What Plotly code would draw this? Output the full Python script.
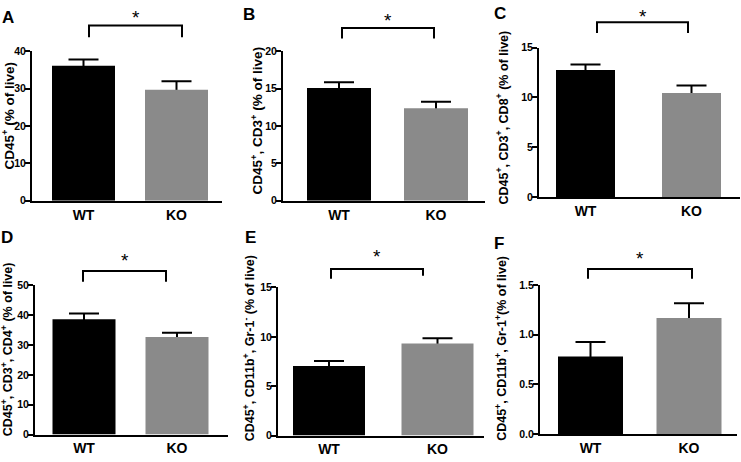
import plotly.graph_objects as go

# ---------------- data ----------------
groups = ["WT", "KO"]
panel_letters = ["A", "B", "C", "D", "E", "F"]
y_titles = [
    "CD45<sup>+</sup> (% of live)",
    "CD45<sup>+</sup>, CD3<sup>+</sup> (% of live)",
    "CD45<sup>+</sup>, CD3<sup>+</sup>, CD8<sup>+</sup> (% of live)",
    "CD45<sup>+</sup>, CD3<sup>+</sup>, CD4<sup>+</sup> (% of live)",
    "CD45<sup>+</sup>, CD11b<sup>+</sup>, Gr-1<sup>-</sup> (% of live)",
    "CD45<sup>+</sup>, CD11b<sup>+</sup>, Gr-1<sup>+</sup>(% of live)",
]
wt_mean = [36.1, 15.1, 12.75, 38.6, 7.04, 0.78]
wt_sem = [1.7, 0.77, 0.55, 1.9, 0.50, 0.147]
ko_mean = [29.7, 12.39, 10.44, 32.7, 9.33, 1.17]
ko_sem = [2.3, 0.87, 0.74, 1.4, 0.52, 0.148]
y_max = [40, 20, 15, 50, 15, 1.5]
y_dtick = [10, 5, 5, 10, 5, 0.5]
y_format = ["d", "d", "d", "d", "d", ".1f"]
significance = ["*", "*", "*", "*", "*", "*"]

# ---------------- layout (pixels) ----------------
W, H = 741, 462
bar_colors = ["#000000", "#8a8a8a"]
FONT = "Liberation Sans, Arial, sans-serif"

# plot area: x0, x1, y_top, y_bottom
area_px = [
    (32, 222, 46.5, 200),
    (283, 485, 46.5, 200),
    (539, 740, 42.7, 196),
    (35, 228, 286.7, 440),
    (278, 484, 289, 441),
    (540, 737, 286.7, 439.3),
]
# bar centres (WT, KO) and bar width in px
bar_px = [
    (83.5, 176.5, 63),
    (339, 436, 64),
    (585.5, 691.5, 59),
    (84, 177, 63),
    (329, 437.5, 72),
    (590.5, 689, 65),
]
# bracket: x_left, x_right, y_horizontal, y_leg_left, y_leg_right
bracket_px = [
    (89, 182, 20, 32, 32),
    (342, 434, 22.7, 33.3, 33.3),
    (597, 688, 16.7, 27.7, 27.7),
    (83, 166, 272, 283, 283),
    (331, 423, 270, 280, 277),
    (588, 692, 270, 280, 280),
]
star_y_px = [12, 15, 10.5, 261, 257.5, 259]
letter_px = [(7.5, 11.5), (249, 9), (500, 7.5), (7, 238), (250, 238), (499, 244)]
ytitle_px = [(8, 112.5, 13.5), (257, 117.5, 13.5), (502, 114.5, 12.5),
             (6.5, 353, 12.5), (248.5, 352, 12.5), (501, 352, 12.5)]


def px(x):
    return x / W


def py(y):
    return 1 - y / H


fig = go.Figure()
shapes = []
annotations = []

for i in range(6):
    n = "" if i == 0 else str(i + 1)
    xa, ya = "x" + n, "y" + n
    x0, x1, yt, yb = area_px[i]
    c0, c1, bw = bar_px[i]
    s = c1 - c0
    xr = [(x0 - c0) / s, (x1 - c0) / s]
    means = [wt_mean[i], ko_mean[i]]
    sems = [wt_sem[i], ko_sem[i]]

    # error bars (transparent bars underneath)
    fig.add_trace(go.Bar(
        x=[0, 1], y=means, width=bw / s, xaxis=xa, yaxis=ya,
        marker=dict(color="rgba(0,0,0,0)", line=dict(width=0)),
        error_y=dict(type="data", array=sems, color="#000000", thickness=2, width=15, visible=True),
        hoverinfo="skip",
    ))
    # visible bars on top (hide the lower half of error bars)
    fig.add_trace(go.Bar(
        x=[0, 1], y=means, width=bw / s, xaxis=xa, yaxis=ya,
        marker=dict(color=bar_colors, line=dict(width=0)),
    ))

    axis_common = dict(showline=True, linecolor="#000000", linewidth=2, showgrid=False,
                       zeroline=False, mirror=False)
    fig.layout["xaxis" + n] = dict(
        domain=[px(x0), px(x1)], anchor=ya, range=xr,
        tickvals=[0, 1], ticktext=groups, ticks="",
        tickfont=dict(family=FONT, size=14, color="#000000", weight="bold"),
        fixedrange=True, **axis_common)
    fig.layout["yaxis" + n] = dict(
        domain=[py(yb), py(yt)], anchor=xa, range=[0, y_max[i]],
        tick0=0, dtick=y_dtick[i], tickformat=y_format[i],
        ticks="outside", ticklen=5, tickwidth=2, tickcolor="#000000",
        ticklabelstandoff=-3,
        tickfont=dict(family=FONT, size=10.5, color="#000000", weight="bold"),
        fixedrange=True, **axis_common)

    # significance bracket
    bl, br, bh, bll, blr = bracket_px[i]
    shapes.append(dict(type="path", xref="paper", yref="paper",
                       path=f"M {px(bl)} {py(bll)} L {px(bl)} {py(bh)} L {px(br)} {py(bh)} L {px(br)} {py(blr)}",
                       line=dict(color="#000000", width=2)))
    annotations.append(dict(text=significance[i], xref="paper", yref="paper",
                            x=px((bl + br) / 2), y=py(star_y_px[i]), xanchor="center", yanchor="middle",
                            showarrow=False, font=dict(family=FONT, size=19, color="#000000")))
    # panel letter
    lx, ly = letter_px[i]
    annotations.append(dict(text=panel_letters[i], xref="paper", yref="paper",
                            x=px(lx), y=py(ly), xanchor="center", yanchor="middle", showarrow=False,
                            font=dict(family=FONT, size=17, color="#000000", weight="bold")))
    # y-axis title
    tx, ty, ts = ytitle_px[i]
    annotations.append(dict(text=y_titles[i], xref="paper", yref="paper",
                            x=px(tx), y=py(ty), xanchor="center", yanchor="middle", textangle=-90,
                            showarrow=False,
                            font=dict(family=FONT, size=ts, color="#000000", weight="bold")))

fig.update_layout(
    width=W, height=H, margin=dict(l=0, r=0, t=0, b=0),
    paper_bgcolor="#ffffff", plot_bgcolor="#ffffff",
    barmode="overlay", showlegend=False,
    shapes=shapes, annotations=annotations,
)

fig.write_html("out.html", config={"displayModeBar": False},
               post_script="document.body.style.margin='0';")
